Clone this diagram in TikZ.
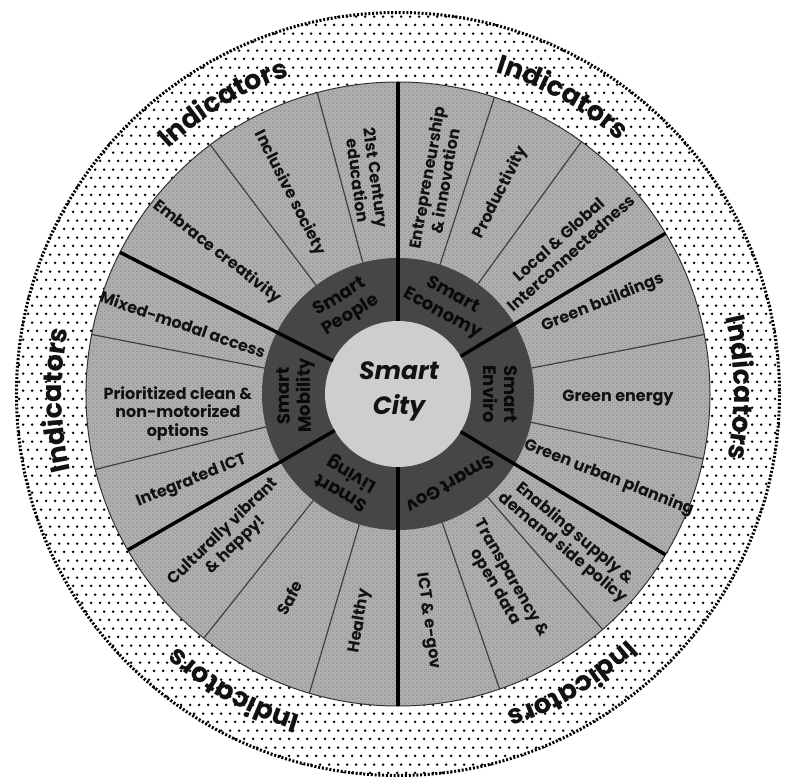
\documentclass[tikz,border=0pt]{standalone}
\usepackage{fontspec}
\setmainfont{Poppins}
\usetikzlibrary{decorations.text,patterns.meta}

\definecolor{ringgray}{RGB}{176,176,176}
\definecolor{grain}{RGB}{112,112,112}
\definecolor{darkring}{RGB}{70,70,70}
\definecolor{centergray}{RGB}{206,206,206}
\definecolor{txt}{RGB}{18,18,18}
\definecolor{cattxt}{RGB}{10,10,10}

\tikzdeclarepattern{
  name=bigdots,
  type=uncolored,
  bounding box={(0pt,0pt) and (8.6pt,17.2pt)},
  tile size={(8.6pt,17.2pt)},
  code={
    \fill (2.15pt,4.3pt) circle (1.45pt);
    \fill (6.45pt,12.9pt) circle (1.45pt);
  }
}
\tikzdeclarepattern{
  name=grainy,
  type=uncolored,
  bounding box={(0pt,0pt) and (4pt,4pt)},
  tile size={(4pt,4pt)},
  code={
    \fill (1pt,1pt) circle (0.75pt);
    \fill (3pt,3pt) circle (0.55pt);
  }
}

\begin{document}
\begin{tikzpicture}[x=1pt,y=1pt,
  lab/.style={font=\bfseries\fontsize{16}{18.5}\selectfont, align=center, text=txt, inner sep=0pt},
  catlab/.style={font=\bfseries\fontsize{18}{21}\selectfont, align=center, text=cattxt, inner sep=0pt},
  thinsep/.style={line width=1.2pt, black!75},
  thicksep/.style={line width=3.4pt, black},
]
\useasboundingbox (-398,-382) rectangle (394,394);

% outer indicator ring
\fill[white] (0,0) circle (383);
\fill[pattern=bigdots, pattern color=black] (0,0) circle (383);
\draw[line width=3pt, dash pattern=on 2pt off 1.8pt] (0,0) circle (381.5);

% grey ring
\fill[ringgray] (0,0) circle (312);
\fill[pattern=grainy, pattern color=grain] (0,0) circle (312);
\draw[line width=1pt, black!80] (0,0) circle (312);
% dark ring
\fill[darkring] (0,0) circle (136);
% centre
\fill[centergray] (0,0) circle (73);

% separators
\foreach \a in {72,54,11,-12,-49,-71,253.5,231.5,194,169,127,105}
  \draw[thinsep] (\a:136) -- (\a:312);
\foreach \a in {90,31,-31,270,210,153}
  \draw[thicksep] (\a:73) -- (\a:312);

% centre text
\node (city) [font=\bfseries\itshape\fontsize{25}{35}\selectfont, align=center, text=txt] at (1,3) {Smart\\City};

% category labels
\node (cp) [catlab, rotate=31]  at (121:102) {Smart\\People};
\node (ce) [catlab, rotate=-29] at (61:102)  {Smart\\Economy};
\node (cv) [catlab, rotate=-90] at (0:102)   {Smart\\Enviro};
\node (cg) [catlab, rotate=-150] at (-60:104) {Smart Gov};
\node (cl) [catlab, rotate=150] at (240:102) {Smart\\Living};
\node (cm) [catlab, rotate=91]  at (181:102) {Smart\\Mobility};

% sector labels
\node (e1) [lab, rotate=80]    at (80:218)    {Entrepreneurship\\\& innovation};
\node (e2) [lab, rotate=63]    at (63:226)    {Productivity};
\node (e3) [lab, rotate=42]    at (41.5:223)  {Local \& Global\\Interconnectedness};
\node (v1) [lab, rotate=22]    at (24:224)    {Green buildings};
\node (v2) [lab, rotate=0]     at (-1:220)    {Green energy};
\node (v3) [lab, rotate=-21.5] at (-21.7:227) {Green urban planning};
\node (g1) [lab, rotate=-40]   at (-40.7:225) {Enabling supply \&\\demand side policy};
\node (g2) [lab, rotate=-60]   at (-61:216)   {Transparency \&\\open data};
\node (g3) [lab, rotate=-82]   at (-82.5:229) {ICT \& e-gov};
\node (l1) [lab, rotate=80.5]  at (260.5:230) {Healthy};
\node (l2) [lab, rotate=62]    at (242:231)   {Safe};
\node (l3) [lab, rotate=44]    at (220.6:222) {Culturally vibrant\\\& happy!};
\node (m1) [lab, rotate=22]    at (202.9:224) {Integrated ICT};
\node (m2) [lab, rotate=0]     at (185:221)   {Prioritized clean \&\\non-motorized\\options};
\node (m3) [lab, rotate=-19]   at (162:226)   {Mixed-modal access};
\node (p1) [lab, rotate=-38]   at (141.9:230) {Embrace creativity};
\node (p2) [lab, rotate=-63]   at (118.3:228) {Inclusive society};
\node (p3) [lab, rotate=-82]   at (98.2:217)  {21st Century\\education};

% indicators (curved)
\newcommand{\indfont}{\bfseries\fontsize{27}{27}\selectfont\color{txt}}
\tikzset{indline/.style={decorate, decoration={text along path, text align=center, text={|\indfont|Indicators}}}}
\foreach \c in {121,61,1,-59,241,181}
  \path[indline] (\c+28:336) arc[start angle=\c+28, end angle=\c-28, radius=336];
\end{tikzpicture}
\end{document}
